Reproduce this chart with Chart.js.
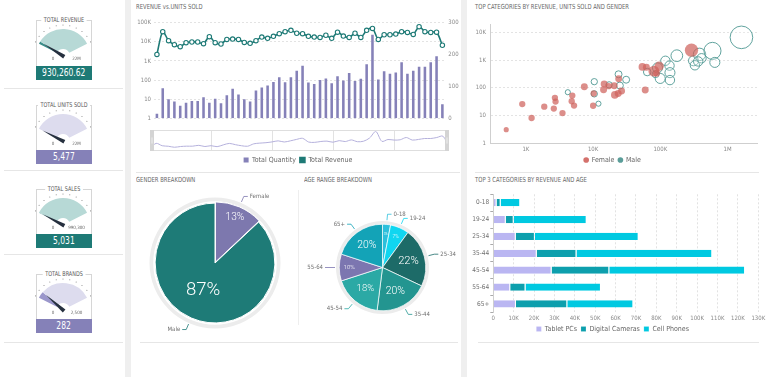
<!DOCTYPE html>
<html lang="en">
<head>
<meta charset="utf-8">
<title>Sales dashboard</title>
<script src="https://cdn.jsdelivr.net/npm/chart.js@4.4.1/dist/chart.umd.min.js"></script>
<style>
  body { margin:0; width:770px; height:377px; overflow:hidden; background:#efefef;
         font-family:'Liberation Sans Narrow','DejaVu Sans Condensed',Roboto,sans-serif; }
  .painel { position:absolute; top:0; height:377px; background:#fff; }
  .titulo { position:absolute; font-size:7px; color:#686868; white-space:nowrap; line-height:8px;
            transform:scaleX(0.84); transform-origin:0 0; }
  .linha { position:absolute; height:1px; background:#e6e6e6; }
  .moldura { position:absolute; left:36px; width:54px; height:45px; border:1px solid #d6d6d6; border-bottom:0; }
  .moldura span { position:absolute; top:-5px; left:50%; transform:translateX(-50%) scaleX(0.84); background:#fff;
                  padding:0 3px; font-size:6.5px; color:#5a5a5a; white-space:nowrap; line-height:9px; }
  .valor { position:absolute; left:36px; width:56px; height:14px; line-height:14px; text-align:center; color:#fff; font-size:10px; }
  .valor span { display:inline-block; transform:scaleX(0.84); }
  canvas { position:absolute; }
</style>
</head>
<body>
<div class="painel" style="left:0;width:125px"></div>
<div class="painel" style="left:131px;width:330px"></div>
<div class="painel" style="left:467px;width:303px"></div>

<div class="titulo" style="left:136px;top:3px">REVENUE vs.UNITS SOLD</div>
<div class="titulo" style="left:475px;top:3px">TOP CATEGORIES BY REVENUE, UNITS SOLD AND GENDER</div>
<div class="titulo" style="left:136px;top:176px">GENDER BREAKDOWN</div>
<div class="titulo" style="left:304px;top:176px">AGE RANGE BREAKDOWN</div>
<div class="titulo" style="left:475px;top:176px">TOP 3 CATEGORIES BY REVENUE AND AGE</div>

<div class="linha" style="left:4px;width:119px;top:88px"></div>
<div class="linha" style="left:4px;width:119px;top:170px"></div>
<div class="linha" style="left:4px;width:119px;top:254px"></div>
<div class="linha" style="left:4px;width:119px;top:342px"></div>
<div class="linha" style="left:136px;width:324px;top:172px"></div>
<div class="linha" style="left:140px;width:318px;top:342px"></div>
<div class="linha" style="left:475px;width:284px;top:172px"></div>
<div class="linha" style="left:478px;width:281px;top:342px"></div>
<div class="linha" style="left:298px;width:1px;top:190px;height:135px;background:#eeeeee"></div>

<script>
// --- dados ---
// indicadores da coluna da esquerda
const kpiTitulos = ['TOTAL REVENUE', 'TOTAL UNITS SOLD', 'TOTAL SALES', 'TOTAL BRANDS'];
const kpiValores = [930260.62, 5477, 5031, 282];
const kpiMaximos = [22000000, 22000000, 990300, 2500];
const kpiRotulosMax = ['22M', '22M', '990,300', '2,500'];

// receita x unidades (50 periodos)
const periodos = ['1','2','3','4','5','6','7','8','9','10','11','12','13','14','15','16','17','18','19','20',
  '21','22','23','24','25','26','27','28','29','30','31','32','33','34','35','36','37','38','39','40',
  '41','42','43','44','45','46','47','48','49','50'];
const quantidade = [14,94,60,53,39,49,54,54,66,49,61,47,72,93,75,60,53,87,97,103,
  114,129,113,129,149,165,112,108,120,125,110,132,119,142,117,124,170,262,122,148,
  140,144,176,140,149,162,162,176,195,44];
const receita = [2200,34000,11500,7100,5600,9000,9800,9800,8000,18600,9000,7700,13400,13900,13400,9300,8300,11500,17800,15200,
  19300,26700,34000,40000,28000,26700,19300,17800,17000,22000,15200,32000,20000,17000,28000,17000,40000,50000,13400,23500,
  23500,25500,34000,31000,24500,62000,34000,31000,32000,6600];

// categorias por receita, unidades e genero
const femReceita = [509,882,1214,1874,2700,2760,2600,3500,4900,4800,5200,7400,10000,10200,14600,14300,17000,20600,24000,23600,21000,26500,59600,54000,62000,80000,88000,96000,291000];
const femUnidades = [3.1,26,8.2,21,44,32,18,12.3,53,33,23,110,22.7,63,140,86,116,119,214,63,56,78,84,575,560,405,337,605,2300];
const femTamanho = [6,9,9,9,9,9,9,9,9,9,9,11,9,9,11,11,9,11,11,11,13,11,11,13,11,27,11,20,40];
const masReceita = [4200,10400,10400,12000,23900,25000,17300,31000,63800,90800,85000,99600,119000,137000,139000,139000,176000,312000,327000,383000,410000,366000,597000,647000,1610000];
const masUnidades = [70,168,61,27,311,122,129,198,375,530,311,220,955,640,356,192,1460,955,657,1630,1180,905,2180,835,6700];
const masTamanho = [6,9,9,6,11,11,9,11,13,23,11,23,20,20,23,20,31,23,20,35,20,20,66,23,116];

// genero e faixa etaria
const generos = ['Female', 'Male'];
const generoPct = [13, 87];
const faixas = ['0-18', '19-24', '25-34', '35-44', '45-54', '55-64', '65+'];
const faixaPct = [3, 7, 22, 20, 18, 10, 20];

// top 3 categorias por receita e idade
const categorias = ['Tablet PCs', 'Digital Cameras', 'Cell Phones'];
const tablets = [1600, 6100, 11000, 21300, 28600, 8300, 11100];
const cameras = [2000, 3900, 9400, 19500, 28300, 7500, 25200];
const celulares = [9600, 35800, 50900, 66600, 66600, 37000, 32400];

// --- estilo ---
const FONTE = "'Liberation Sans Narrow','DejaVu Sans Condensed',Roboto,sans-serif";
const FONTE_PIZZA = "Roboto,'Open Sans',sans-serif";
Chart.defaults.font.family = FONTE;
Chart.defaults.color = '#808080';
Chart.defaults.animation = false;
Chart.defaults.responsive = false;
Chart.defaults.devicePixelRatio = 1;
Chart.defaults.events = [];
Chart.defaults.plugins.tooltip.enabled = false;

const TEAL = '#1e7a76', ROXO = '#8581b8';
const porIndice = (a, b) => a.datasetIndex - b.datasetIndex;

function novoCanvas(left, top, w, h) {
  const c = document.createElement('canvas');
  c.width = w; c.height = h;
  c.style.left = left + 'px'; c.style.top = top + 'px';
  document.body.appendChild(c);
  return c;
}
function fmtK(v) {
  if (v >= 1e6) return v / 1e6 + 'M';
  if (v >= 1000) return v / 1000 + 'K';
  return String(v);
}
// so mostra potencias de 10 nos eixos log
function potencia(v) {
  const l = Math.log10(v);
  return Math.abs(l - Math.round(l)) < 1e-9 ? fmtK(v) : null;
}

// --- medidores ---
const ponteiro = {
  id: 'ponteiro',
  afterDatasetsDraw(chart, args, o) {
    const arc = chart.getDatasetMeta(0).data[0];
    const {x, y, outerRadius: R} = arc;
    const ctx = chart.ctx;
    const rot = chart.options.rotation, circ = chart.options.circumference;
    const rad = a => (a - 90) * Math.PI / 180;
    ctx.save();
    ctx.fillStyle = '#888';
    for (let k = 0; k <= 10; k++) {
      const a = rad(rot + circ * k / 10);
      ctx.beginPath();
      ctx.arc(x + Math.cos(a) * (R + 4), y + Math.sin(a) * (R + 4), 0.55, 0, Math.PI * 2);
      ctx.fill();
    }
    ctx.font = '4.5px ' + FONTE;
    ctx.fillStyle = '#666';
    ctx.textAlign = 'center';
    ctx.textBaseline = 'middle';
    ctx.fillText('0', x - 10, y + 3);
    ctx.fillText(o.rotuloMax, x + 13.5, y + 3);
    const a = rad(rot + circ * Math.min(o.valor / o.maximo, 1));
    const cx = Math.cos(a), sy = Math.sin(a);
    const len = R * 0.85, w = 2;
    ctx.fillStyle = '#26303f';
    ctx.beginPath();
    ctx.moveTo(x + cx * len, y + sy * len);
    ctx.lineTo(x - sy * w - cx * 1.5, y + cx * w - sy * 1.5);
    ctx.lineTo(x + sy * w - cx * 1.5, y - cx * w - sy * 1.5);
    ctx.closePath();
    ctx.fill();
    ctx.restore();
  }
};

const topos = [20, 104.5, 188.5, 273.5];
const temas = [
  {claro: '#b7d9d6', escuro: '#3a8e89', caixa: TEAL},
  {claro: '#dddcee', escuro: '#9b97cb', caixa: ROXO},
  {claro: '#b7d9d6', escuro: '#3a8e89', caixa: TEAL},
  {claro: '#dddcee', escuro: '#9b97cb', caixa: ROXO}
];

kpiTitulos.forEach((titulo, i) => {
  const T = topos[i], tema = temas[i];
  const m = document.createElement('div');
  m.className = 'moldura'; m.style.top = T + 'px';
  m.innerHTML = '<span>' + titulo + '</span>';
  document.body.appendChild(m);

  const v = kpiValores[i];
  const cv = novoCanvas(35.3, T + 2, 56, 44);
  new Chart(cv, {
    type: 'doughnut',
    data: { datasets: [{ data: [v, kpiMaximos[i] - v], backgroundColor: [tema.escuro, tema.claro], borderWidth: 0, hoverOffset: 0 }] },
    options: {
      rotation: -63, circumference: 126, cutout: '26%',
      layout: { padding: { top: 7, bottom: 13.2, left: 0, right: 0 } },
      plugins: { legend: { display: false }, ponteiro: { valor: v, maximo: kpiMaximos[i], rotuloMax: kpiRotulosMax[i] } }
    },
    plugins: [ponteiro]
  });

  const caixa = document.createElement('div');
  caixa.className = 'valor';
  caixa.style.top = (T + 45.7) + 'px';
  caixa.style.background = tema.caixa;
  const txt = document.createElement('span');
  txt.textContent = Number.isInteger(v) ? v.toLocaleString('en-US')
    : v.toLocaleString('en-US', { minimumFractionDigits: 2, maximumFractionDigits: 2 });
  caixa.appendChild(txt);
  document.body.appendChild(caixa);
});

// --- receita x unidades ---
new Chart(novoCanvas(131, 12, 334, 162), {
  data: {
    labels: periodos,
    datasets: [
      { type: 'bar', label: 'Total Quantity', data: quantidade, yAxisID: 'yQtd', backgroundColor: ROXO,
        barPercentage: 0.44, categoryPercentage: 1, order: 2 },
      { type: 'line', label: 'Total Revenue', data: receita, yAxisID: 'yRec', borderColor: TEAL, backgroundColor: TEAL,
        borderWidth: 1.6, tension: 0.3, pointRadius: 2.2, pointBorderWidth: 1.1,
        pointBackgroundColor: '#fff', pointBorderColor: TEAL, order: 1 }
    ]
  },
  options: {
    layout: { padding: { top: 10.7, bottom: 0.5, left: 0, right: 0 } },
    plugins: {
      legend: { position: 'bottom', labels: { boxWidth: 5, boxHeight: 5, padding: 4, color: '#666', font: { size: 7 }, sort: porIndice } }
    },
    scales: {
      x: { grid: { display: false }, ticks: { display: false }, border: { display: false },
           afterFit: s => { s.height = 34.2; } },
      yRec: { type: 'logarithmic', position: 'left', min: 1, max: 100000,
              ticks: { callback: potencia, font: { size: 6 }, color: '#8a8a8a', padding: 3 },
              grid: { color: '#e3e3e3', drawTicks: false }, border: { display: false, dash: [2, 2] },
              afterFit: s => { s.width = 23; } },
      yQtd: { position: 'right', min: 0, max: 300,
              ticks: { stepSize: 100, font: { size: 6 }, color: '#8a8a8a', padding: 3 },
              grid: { display: false, drawTicks: false }, border: { display: false },
              afterFit: s => { s.width = 19.7; } }
    }
  }
});

// navegador (mini serie de quantidade)
const moldNav = {
  id: 'moldNav',
  afterDraw(chart) {
    const ctx = chart.ctx, w = chart.width, h = chart.height;
    ctx.save();
    ctx.strokeStyle = '#dedede';
    ctx.lineWidth = 1;
    ctx.strokeRect(0.5, 0.5, w - 1, h - 1);
    [0, w - 4].forEach(x0 => {
      ctx.fillStyle = '#d4d4d4';
      ctx.fillRect(x0, 0, 4, h);
      ctx.fillStyle = '#ededed';
      ctx.fillRect(x0 + 1.5, h / 2 - 3, 1, 6);
    });
    ctx.restore();
  }
};
new Chart(novoCanvas(150, 130, 299, 21), {
  type: 'line',
  data: { labels: periodos, datasets: [{ data: quantidade, borderColor: '#b5b1dc', borderWidth: 1, pointRadius: 0, tension: 0.3 }] },
  options: {
    layout: { padding: { top: 1, bottom: 1 } },
    plugins: { legend: { display: false } },
    scales: {
      x: { ticks: { display: false, autoSkip: false }, border: { display: false },
           grid: { drawTicks: false, color: c => (c.index % 10 === 0 && c.index > 0) ? '#e2e2e2' : 'rgba(0,0,0,0)' },
           afterFit: s => { s.height = 0; } },
      y: { display: false, min: 0, max: 268 }
    }
  },
  plugins: [moldNav]
});

// --- bolhas por genero ---
function pontos(xs, ys, ts) {
  return xs.map((x, i) => ({ x: x, y: ys[i], r: Math.sqrt(ts[i]) * 1.05 }));
}
const coresBolha = ['#d4716c', '#5a9d99'];
new Chart(novoCanvas(467, 12, 303, 162), {
  type: 'bubble',
  data: {
    datasets: [
      { label: 'Male', data: pontos(masReceita, masUnidades, masTamanho), backgroundColor: 'rgba(255,255,255,0.2)',
        borderColor: '#4f9893', borderWidth: 0.9, order: 2 },
      { label: 'Female', data: pontos(femReceita, femUnidades, femTamanho), backgroundColor: 'rgba(207,98,93,0.72)',
        borderWidth: 0, order: 1 }
    ]
  },
  options: {
    layout: { padding: { top: 8, right: 12, bottom: 0.5, left: 0 } },
    plugins: {
      legend: {
        position: 'bottom',
        labels: {
          usePointStyle: true, boxWidth: 4, boxHeight: 4, padding: 4, color: '#666', font: { size: 7 },
          generateLabels: ch => ['Female', 'Male'].map((t, i) => ({
            text: t, fillStyle: coresBolha[i], strokeStyle: coresBolha[i], lineWidth: 0,
            pointStyle: 'circle', fontColor: '#666', datasetIndex: i === 0 ? 1 : 0
          }))
        }
      }
    },
    scales: {
      x: { type: 'logarithmic', min: 292, max: 2820000,
           ticks: { callback: potencia, font: { size: 6 }, color: '#8a8a8a', padding: 3, maxRotation: 0 },
           grid: { display: false, drawTicks: false }, border: { color: '#cfcfcf' },
           afterFit: s => { s.height = 9.2; } },
      y: { type: 'logarithmic', min: 1, max: 20000,
           ticks: { callback: potencia, font: { size: 6 }, color: '#8a8a8a', padding: 4 },
           grid: { color: '#e3e3e3', drawTicks: false }, border: { color: '#cfcfcf', dash: [2, 2] },
           afterFit: s => { s.width = 23; } }
    }
  }
});

// --- pizzas ---
const coresGenero = ['#7d78ae', '#1e7b77'];
const coresFaixa = ['#2cc0dc', '#10d6f0', '#1d6b68', '#239590', '#2ba9a5', '#7c76b0', '#13a3b7'];

const rotulosPizza = {
  id: 'rotulosPizza',
  afterDatasetsDraw(chart) {
    const ctx = chart.ctx;
    const ds = chart.data.datasets[1];
    const meta = chart.getDatasetMeta(1);
    const anel = chart.getDatasetMeta(0).data[0].outerRadius;
    const total = ds.data.reduce((a, b) => a + b, 0);
    ctx.save();
    meta.data.forEach((arc, i) => {
      const pct = ds.data[i] / total * 100;
      const R = arc.outerRadius;
      const meio = (arc.startAngle + arc.endAngle) / 2;
      const dx = Math.cos(meio), dy = Math.sin(meio);
      const off = arc.options.offset || 0;
      // rotulo interno
      const f = pct >= 50 ? 0.5 : pct >= 15 ? 0.62 : 0.77;
      const tam = R * Math.min(0.31, 0.04 + 0.01 * pct);
      ctx.font = '300 ' + tam.toFixed(1) + 'px ' + FONTE_PIZZA;
      ctx.fillStyle = '#fff';
      ctx.textAlign = 'center';
      ctx.textBaseline = 'middle';
      ctx.fillText(Math.round(pct) + '%', arc.x + dx * (R * f + off), arc.y + dy * (R * f + off));
      // rotulo externo com linha guia
      const lado = dx >= 0 ? 1 : -1;
      const x1 = arc.x + dx * (anel + 1), y1 = arc.y + dy * (anel + 1);
      const x2 = arc.x + dx * (anel + 7), y2 = arc.y + dy * (anel + 7);
      ctx.strokeStyle = ds.backgroundColor[i];
      ctx.lineWidth = 0.8;
      ctx.beginPath();
      ctx.moveTo(x1, y1); ctx.lineTo(x2, y2); ctx.lineTo(x2 + lado * 4, y2);
      ctx.stroke();
      ctx.font = '6px ' + FONTE;
      ctx.fillStyle = '#707070';
      ctx.textAlign = lado > 0 ? 'left' : 'right';
      ctx.fillText(chart.data.labels[i], x2 + lado * 6, y2);
    });
    ctx.restore();
  }
};

new Chart(novoCanvas(140, 188, 150, 150), {
  type: 'pie',
  data: {
    labels: generos,
    datasets: [
      { data: [1], backgroundColor: '#ececec', borderWidth: 0, weight: 0.06, hoverOffset: 4, order: 2 },
      { data: generoPct, backgroundColor: coresGenero, borderColor: '#fff', borderWidth: 1,
        offset: [4, 0], hoverOffset: 0, weight: 1, order: 1 }
    ]
  },
  options: { layout: { padding: 9.5 }, plugins: { legend: { display: false } } },
  plugins: [rotulosPizza]
});

new Chart(novoCanvas(300, 185, 165, 165), {
  type: 'pie',
  data: {
    labels: faixas,
    datasets: [
      { data: [1], backgroundColor: '#ececec', borderWidth: 0, weight: 0.075, hoverOffset: 0, order: 2 },
      { data: faixaPct, backgroundColor: coresFaixa, borderColor: 'rgba(255,255,255,0.7)', borderWidth: 1,
        hoverOffset: 0, weight: 1, order: 1 }
    ]
  },
  options: { layout: { padding: 36 }, plugins: { legend: { display: false } } },
  plugins: [rotulosPizza]
});

// --- barras empilhadas ---
const coresCat = ['#bab6f2', '#0d9fad', '#00c9e1'];
new Chart(novoCanvas(467, 186, 303, 157), {
  type: 'bar',
  data: {
    labels: faixas,
    datasets: [tablets, cameras, celulares].map((d, i) => ({
      label: categorias[i], data: d, backgroundColor: coresCat[i],
      borderColor: 'rgba(255,255,255,0.55)', borderWidth: { right: 1 }, borderSkipped: false,
      barPercentage: 0.43, categoryPercentage: 1
    }))
  },
  options: {
    indexAxis: 'y',
    layout: { padding: { top: 8.3, right: 11.7, bottom: 0.5, left: 0 } },
    plugins: {
      legend: { position: 'bottom', labels: { boxWidth: 5, boxHeight: 5, padding: 4, color: '#666', font: { size: 7 } } }
    },
    scales: {
      x: { stacked: true, min: 0, max: 130000,
           ticks: { stepSize: 10000, callback: v => v === 0 ? '0' : v / 1000 + 'K', font: { size: 6 }, color: '#8a8a8a', padding: 2, maxRotation: 0 },
           grid: { color: '#e2e2e2', drawTicks: false }, border: { display: false, dash: [2, 2] },
           afterFit: s => { s.height = 9.1; } },
      y: { stacked: true,
           ticks: { font: { size: 6.5 }, color: '#707070', padding: 1 },
           grid: { drawOnChartArea: false, tickLength: 3, color: '#aaa' }, border: { color: '#cfcfcf' },
           afterFit: s => { s.width = 26.3; } }
    }
  }
});
</script>
</body>
</html>
